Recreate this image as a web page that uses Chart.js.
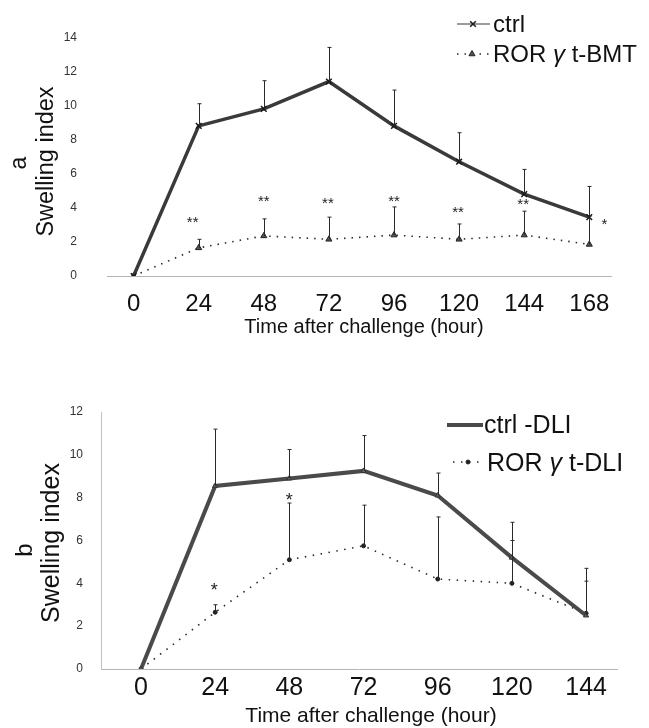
<!DOCTYPE html>
<html>
<head>
<meta charset="utf-8">
<script src="https://cdn.jsdelivr.net/npm/chart.js@4.4.0/dist/chart.umd.min.js"></script>
<style>
  html, body { margin: 0; padding: 0; background: #fff; overflow: hidden; }
  #wrap { position: relative; width: 649px; height: 728px; }
  canvas { position: absolute; left: 0; }
  #chart-a { top: 0; }
  #chart-b { top: 370px; }
</style>
</head>
<body>
<div id="wrap">
  <canvas id="chart-a" width="649" height="345"></canvas>
  <canvas id="chart-b" width="649" height="358"></canvas>
</div>
<script>
// panel a
const hoursA = [0, 24, 48, 72, 96, 120, 144, 168];
const ctrlA = [0, 8.8, 9.8, 11.4, 8.8, 6.7, 4.8, 3.45];
const ctrlTopA = [null, 10.1, 11.45, 13.4, 10.9, 8.4, 6.25, 5.25];
const bmtA = [0, 1.65, 2.35, 2.15, 2.4, 2.15, 2.4, 1.85];
const bmtTopA = [null, 2.15, 3.35, 3.45, 4.05, 3.05, 3.8, 3.5];
const starHoursA = [24, 48, 72, 96, 120, 144, 168];
const starLevelsA = [3.05, 4.3, 4.2, 4.3, 3.65, 4.1, 2.95];
const starTextA = ['**', '**', '**', '**', '**', '**', '*'];
const yTicksA = [0, 2, 4, 6, 8, 10, 12, 14];

// panel b
const hoursB = [0, 24, 48, 72, 96, 120, 144];
const ctrlB = [0, 8.55, 8.9, 9.25, 8.1, 5.2, 2.5];
const ctrlTopB = [null, 11.2, 10.25, 10.9, 9.15, 6.85, 4.7];
const dliB = [0, 2.65, 5.1, 5.75, 4.2, 4.0, 2.6];
const dliTopB = [null, 3.0, 7.75, 7.65, 7.1, 6.0, 4.1];
const starHoursB = [24, 48];
const starLevelsB = [3.85, 8.05];
const starTextB = ['*', '*'];
const yTicksB = [0, 2, 4, 6, 8, 10, 12];

const FONT = '"Liberation Sans", Arial, sans-serif';

const pts = (xs, ys) => xs.map((h, i) => ({ x: h, y: ys[i] }));
const fixedTicks = (list) => (scale) => { scale.ticks = list.map((v) => ({ value: v })); };

// legend label with the greek letter in italics
function drawLabel(ctx, label, x, y, size) {
  const parts = label.split('γ');
  let cx = x;
  parts.forEach((part, i) => {
    ctx.font = `${size}px ${FONT}`;
    ctx.fillText(part, cx, y);
    cx += ctx.measureText(part).width;
    if (i < parts.length - 1) {
      ctx.font = `italic ${size}px ${FONT}`;
      ctx.fillText('γ', cx, y);
      cx += ctx.measureText('γ').width;
    }
  });
}

// error bars, stars, legend and free titles
const figurePlugin = {
  id: 'figure',
  afterDatasetsDraw(chart, args, opts) {
    const { ctx } = chart;
    const x = chart.scales.x;
    const y = chart.scales.y;
    ctx.save();
    ctx.strokeStyle = '#2a2a2a';
    ctx.lineWidth = 1;
    chart.data.datasets.forEach((ds) => {
      if (!ds.errTop) return;
      ds.data.forEach((pt, i) => {
        const top = ds.errTop[i];
        if (top == null) return;
        const px = Math.round(x.getPixelForValue(pt.x)) + 0.5;
        const y0 = y.getPixelForValue(pt.y);
        const y1 = y.getPixelForValue(top);
        ctx.beginPath();
        ctx.moveTo(px, y0);
        ctx.lineTo(px, y1);
        ctx.moveTo(px - 2, y1);
        ctx.lineTo(px + 2, y1);
        ctx.stroke();
      });
    });

    const st = opts.stars;
    ctx.fillStyle = '#222';
    ctx.font = `${st.size}px ${FONT}`;
    ctx.textAlign = 'center';
    ctx.textBaseline = 'middle';
    st.hours.forEach((h, i) => {
      const dx = st.dx[i] || 0;
      ctx.fillText(st.text[i], x.getPixelForValue(h) + dx, y.getPixelForValue(st.levels[i]) + st.dy);
    });
    ctx.restore();
  },
  afterDraw(chart, args, opts) {
    const { ctx } = chart;
    ctx.save();
    opts.legend.forEach((item) => {
      const ds = chart.data.datasets[item.dataset];
      ctx.strokeStyle = ds.borderColor;
      ctx.lineWidth = item.lineWidth || ds.borderWidth;
      ctx.setLineDash(ds.borderDash || []);
      ctx.beginPath();
      ctx.moveTo(item.x0, item.y);
      ctx.lineTo(item.x1, item.y);
      ctx.stroke();
      ctx.setLineDash([]);
      if (item.mx) {
        ctx.fillStyle = ds.pointBackgroundColor;
        ctx.strokeStyle = ds.pointBorderColor;
        ctx.lineWidth = ds.pointBorderWidth;
        Chart.helpers.drawPoint(ctx, {
          pointStyle: ds.pointStyle, radius: ds.pointRadius, rotation: 0, borderWidth: ds.pointBorderWidth,
        }, item.mx, item.y);
      }
      ctx.fillStyle = '#111';
      ctx.textAlign = 'left';
      ctx.textBaseline = 'middle';
      drawLabel(ctx, ds.label, item.tx, item.ty, item.size);
    });

    opts.texts.forEach((t) => {
      ctx.save();
      ctx.translate(t.x, t.y);
      if (t.rotate) ctx.rotate(-Math.PI / 2);
      ctx.fillStyle = '#111';
      ctx.font = `${t.size}px ${FONT}`;
      ctx.textAlign = 'center';
      ctx.textBaseline = 'middle';
      ctx.fillText(t.text, 0, 0);
      ctx.restore();
    });
    ctx.restore();
  },
};

function baseOptions(cfg) {
  return {
    responsive: false,
    animation: false,
    events: [],
    layout: { padding: cfg.padding },
    plugins: {
      legend: { display: false },
      tooltip: { enabled: false },
      figure: cfg.figure,
    },
    scales: {
      x: {
        type: 'linear',
        min: cfg.xMin,
        max: cfg.xMax,
        afterBuildTicks: fixedTicks(cfg.xTicks),
        afterFit: (s) => { s.height = cfg.xHeight; },
        grid: { display: false, drawTicks: false },
        border: { display: true, color: '#b5b5b5', dash: [1, 4], width: 1 },
        ticks: { padding: cfg.xPad, color: '#111', maxRotation: 0, autoSkip: false, font: { family: FONT, size: cfg.xSize } },
      },
      y: {
        min: 0,
        max: cfg.yMax,
        afterBuildTicks: fixedTicks(cfg.yTicks),
        afterFit: (s) => { s.width = cfg.yWidth; },
        grid: { display: false, drawTicks: false },
        border: { display: cfg.yBorder, color: '#c2c2c2', dash: [1, 4], width: 1 },
        ticks: { padding: cfg.yPad, color: '#333', font: { family: FONT, size: 12 } },
      },
    },
  };
}

new Chart(document.getElementById('chart-a'), {
  type: 'line',
  data: {
    datasets: [
      {
        label: 'ctrl', data: pts(hoursA, ctrlA), errTop: ctrlTopA,
        borderColor: '#3a3a3a', borderWidth: 3.5, tension: 0,
        pointStyle: 'crossRot', pointRadius: 4, pointBorderColor: '#1a1a1a', pointBackgroundColor: '#1a1a1a', pointBorderWidth: 1.5,
      },
      {
        label: 'ROR γ t-BMT', data: pts(hoursA, bmtA), errTop: bmtTopA,
        borderColor: '#2a2a2a', borderWidth: 1.6, borderDash: [1.5, 6], tension: 0,
        pointStyle: 'triangle', pointRadius: 3.5, pointBorderColor: '#222', pointBackgroundColor: '#555', pointBorderWidth: 1,
      },
    ],
  },
  options: baseOptions({
    padding: { left: 0, right: 38, top: 20, bottom: 3 },
    xMin: -9.8, xMax: 176, xTicks: hoursA, xHeight: 66, xPad: 14, xSize: 24,
    yMax: 14, yTicks: yTicksA, yWidth: 107, yPad: 30, yBorder: false,
    figure: {
      stars: { hours: starHoursA, levels: starLevelsA, text: starTextA, size: 15, dy: -1, dx: [-6, 0, -1, 0, -1, -1, 15] },
      legend: [
        { dataset: 0, x0: 457, x1: 490, y: 24, mx: 473, lineWidth: 1.2, tx: 493, ty: 25, size: 24 },
        { dataset: 1, x0: 457, x1: 490, y: 54, mx: 472, tx: 493, ty: 55, size: 24 },
      ],
      texts: [
        { text: 'Time after challenge (hour)', x: 364, y: 327.5, size: 20 },
        { text: 'a', x: 19.7, y: 163, size: 23, rotate: true },
        { text: 'Swelling index', x: 46.7, y: 161.5, size: 23.5, rotate: true },
      ],
    },
  }),
  plugins: [figurePlugin],
});

new Chart(document.getElementById('chart-b'), {
  type: 'line',
  data: {
    datasets: [
      {
        label: 'ctrl -DLI', data: pts(hoursB, ctrlB), errTop: ctrlTopB,
        borderColor: '#4a4a4a', borderWidth: 4, tension: 0,
        pointStyle: 'triangle', pointRadius: 3, pointBorderColor: '#333', pointBackgroundColor: '#666', pointBorderWidth: 1,
      },
      {
        label: 'ROR γ t-DLI', data: pts(hoursB, dliB), errTop: dliTopB,
        borderColor: '#2a2a2a', borderWidth: 1.6, borderDash: [1.5, 6.5], tension: 0,
        pointStyle: 'circle', pointRadius: 2, pointBorderColor: '#222', pointBackgroundColor: '#222', pointBorderWidth: 1,
      },
    ],
  },
  options: baseOptions({
    padding: { left: 0, right: 32, top: 42, bottom: 0 },
    xMin: -12.94, xMax: 154, xTicks: hoursB, xHeight: 59, xPad: 4, xSize: 25,
    yMax: 12, yTicks: yTicksB, yWidth: 101, yPad: 18, yBorder: true,
    figure: {
      stars: { hours: starHoursB, levels: starLevelsB, text: starTextB, size: 18, dy: 4, dx: [-1, 0] },
      legend: [
        { dataset: 0, x0: 447, x1: 483, y: 55, tx: 484, ty: 56, size: 25 },
        { dataset: 1, x0: 453, x1: 483, y: 92, mx: 468, tx: 487, ty: 94.5, size: 25 },
      ],
      texts: [
        { text: 'Time after challenge (hour)', x: 371, y: 346.5, size: 21 },
        { text: 'b', x: 25.3, y: 180, size: 24, rotate: true },
        { text: 'Swelling index', x: 52, y: 173, size: 25, rotate: true },
      ],
    },
  }),
  plugins: [figurePlugin],
});
</script>
</body>
</html>
